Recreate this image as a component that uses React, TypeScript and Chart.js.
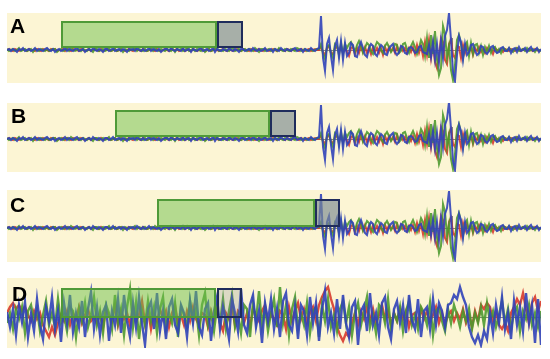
import { useEffect, useRef } from "react";
import { Chart, registerables } from "chart.js";

Chart.register(...registerables);

// ---------- data ----------
const panelLabels = ["A", "B", "C", "D"];
const seisStep = 2; // samples A-C
const noiseStep = 3; // samples D
const xMax = 534;

// seismogram (same trace in A, B, C)
const seisBlue = [
  0, 1, -1, 1, 0, -2, 1, 0, 2, -1,
  0, 1, -1, 0, 2, -1, 1, 0, -1, 1,
  2, 0, -1, 1, -2, 0, 1, -1, 0, 2,
  -1, 1, 0, -1, 1, 2, -1, 0, 1, -2,
  0, 1, -1, 2, 0, -1, 1, 0, -2, 1,
  1, -1, 0, 2, -1, 0, 1, -1, 1, 0,
  -2, 1, 0, 1, -1, 2, 0, -1, 1, -1,
  0, 2, -1, 1, 0, -1, 1, -2, 0, 1,
  1, -1, 2, 0, -1, 1, 0, -1, 2, -1,
  0, 1, -2, 1, 0, -1, 1, 2, -1, 0,
  1, -1, 0, 2, -2, 1, 0, -1, 1, 0,
  -1, 2, 0, -1, 1, 0, -2, 1, 1, -1,
  0, 1, -1, 2, 0, -1, 1, -1, 0, 2,
  -1, 0, 1, -2, 1, 0, -1, 2, 0, -1,
  1, 0, -1, 1, 2, -1, 0, 1, -2, 1,
  0, -1, 2, 0, -1, 1,
  2, 34, -8, -21, 6, 12, -6, -20, 4, 10, -8, 9, -10, 7,
  -6, -3, 7, 5, -6, -7, 3, 8, 2, -5,
  -7, 2, 6, 4, -4, -6, 1, 5, 3, -4,
  -5, 1, 4, 6, -2, -5, -2, 4, 3, -3,
  -4, 2, 3, 1, -3, -2, 3, 4, -2, -3,
  -4, 5, -7, 8, -10, 6, -12, 10, -8, 14,
  20, 37, 10, -22, -31, -5, 14, 8, -10, 6,
  -5, -2, 5, 6, -1, -5, -3, 4, 3, -2,
  -4, -1, 3, 4, -1, -3, -2, 2, 3, -1,
  -1, 2, -3, 1, 2, -2, 3, -1, 0, 2,
  -2, 1, 3, -1, 0, 2, -2, 1,
];

const seisGreen = [
  1, -1, 0, 1, -1, 0, 2, -1, 0, 1,
  -1, 0, 1, -2, 1, 0, -1, 1, 0, -1,
  1, -1, 0, 1, 1, -2, 0, 1, -1, 0,
  1, -1, 2, 0, -1, 0, 1, -1, 1, 0,
  -1, 1, 0, -2, 1, 1, -1, 0, 1, -1,
  0, 2, -1, 0, 1, -1, 0, 1, -2, 1,
  0, -1, 1, 0, 2, -1, 1, 0, -1, 1,
  -1, 0, 1, -1, 2, 0, -1, 1, 0, -1,
  1, 0, -1, 1, -2, 1, 0, 1, -1, 0,
  2, -1, 0, 1, -1, 1, 0, -1, 1, -2,
  0, 1, -1, 0, 1, 2, -1, 0, -1, 1,
  0, -1, 1, 2, -1, 0, 1, -1, 0, 1,
  -1, 1, 0, -1, 2, 0, -2, 1, 1, -1,
  0, 1, -1, 0, 1, -1, 2, 0, -1, 1,
  0, -1, 1, 0, -1, 2, 1, -1, 0, 1,
  -1, 0, 1, -1, 0, 1,
  1, 6, -4, -9, 3, 5, -3, -8, 6, 4, -5, 7, -4, 6,
  2, 6, 8, 3, -2, 5, 9, 4, -3, 2,
  7, 5, -1, -4, 3, 8, 6, 0, -3, 4,
  7, 3, -2, 1, 6, 5, -3, -1, 6, 7,
  1, -3, 4, 8, 3, -4, 2, 10, 6, -6,
  12, -8, 15, -4, 19, -10, -25, -18, 24, 16,
  -8, 4, -20, -30, -15, 10, 15, 6, -8, 5,
  8, -6, 7, -4, 5, 6, -3, 4, -5, 3,
  -2, 4, -3, 2, 3, -2, 1, -3, 2, 1,
  -1, 2, 0, -2, 1, 2, -1, 0, 1, -1,
  2, -1, 0, 1, -2, 1, 0, -1,
];

const seisRed = [
  0, 1, 0, -1, 1, 0, -1, 0, 1, 0,
  -1, 1, 0, 0, -1, 1, 0, -1, 1, 0,
  0, -1, 1, 0, 1, -1, 0, 0, 1, -1,
  1, 0, -1, 1, 0, 0, -1, 1, 0, -1,
  0, 1, -1, 0, 1, 0, -1, 1, -1, 0,
  1, 0, -1, 0, 1, -1, 0, 1, 0, -1,
  0, 1, 0, -1, 1, 0, 0, -1, 1, 0,
  -1, 0, 1, 0, -1, 1, 0, -1, 0, 1,
  0, -1, 1, 0, 0, 1, -1, 0, 1, -1,
  1, 0, -1, 1, 0, -1, 0, 1, 0, -1,
  0, 1, -1, 0, 1, 0, -1, 0, 1, 0,
  -1, 1, 0, -1, 0, 1, 0, -1, 1, 0,
  0, -1, 1, 0, -1, 0, 1, 0, -1, 1,
  0, -1, 0, 1, 0, -1, 1, 0, 0, -1,
  1, 0, -1, 1, 0, 0, -1, 1, 0, -1,
  0, 1, -1, 0, 1, 0,
  0, 3, -2, -5, 2, 4, -3, -4, 2, 3, -2, 4, -3, 2,
  -2, -6, 2, 3, -4, 2, -3, 4, -2, 3,
  -3, 2, -4, 3, -2, 2, -3, 2, -5, 3,
  -2, 3, -1, 2, -3, 4, -2, 3, -1, 2,
  -3, 2, -2, 3, -4, 5, -3, 4, -6, 8,
  -5, 10, -8, 6, -12, -18, -6, 12, 8, -10,
  -14, 6, 10, -5, -8, 4, 3, -8, 5, -3,
  4, -2, 3, -5, 2, -1, 3, -2, 1, -3,
  2, -1, 1, -4, 2, 0, -1, 1, -2, 1,
  0, -1, 1, 0, -1, 2, 0, -1, 1, 0,
  -1, 1, 0, -1, 1, 0, -1, 0,
];

// noise record (panel D)
const noiseBlue = [
  5, -10, 8, -18, 12, -5, 15, -20, 3, -14,
  18, -8, -22, 10, -4, 20, -12, 6, -25, 14,
  -6, 22, -15, 4, -10, 16, -20, 8, 25, -12,
  10, -18, 5, 12, -24, 6, -8, 18, -16, 22,
  -4, -20, 14, -10, 20, -6, -28, 8, 15, -12,
  24, -14, 6, -22, 10, 18, -8, -16, 12, 4,
  -20, 16, -6, 26, -10, -18, 8, 14, -24, 6,
  20, -12, 10, -4, -22, 18, 4, -14, 28, -8,
  -16, 12, 22, -10, 6, -26, 14, -4, 18, -12,
  8, -20, 16, 24, -8, -14, 10, -22, 12, 6,
  -18, 20, -6, 14, -24, 8, 26, -10, 4, -16,
  18, -12, 22, -6, -20, 10, 16, -28, 6, 12,
  -14, 24, -8, 4, -18, 14, 20, -10, -22, 8,
  16, -6, 12, -16, 22, -4, -12, 18, -20, 6,
  10, -12, 18, -8, 14, 6, -10, 12, 14, 22,
  18, 30, 20, 12, -10, -20, -26, -18, -28, -14,
  -22, 4, -16, 12, -6, 20, -12, 4, -22, 16,
  -8, 10, -14, 24, -6, 12, -26, 18, -28,
];

const noiseGreen = [
  -6, 4, -12, 8, -2, 10, -16, 6, 12, -4,
  8, -14, 2, 16, -8, 4, -10, 18, -6, 2,
  -14, 10, 6, -20, 8, -4, 14, -10, 2, 20,
  -8, 6, -16, 12, 4, -12, 22, -6, 8, -18,
  10, 28, -10, 14, -22, 6, -8, 16, -4, 10,
  -16, 8, 20, -12, 4, -6, 14, -20, 10, 2,
  -10, 16, -4, 8, -18, 12, 24, -8, 4, -14,
  10, -6, 18, -12, 6, 22, -10, 2, -16, 12,
  8, -20, 14, -4, 26, -8, 10, -14, 4, 18,
  -10, 30, -6, 12, -18, 8, 20, -12, 4, -8,
  14, -16, 6, 10, -20, 12, -4, 18, -10, 2,
  -14, 8, 16, -6, 10, -18, 4, 14, -8, 6,
  20, -10, 2, -16, 12, 8, -6, 18, -12, 4,
  -4, 10, -14, 6, 16, -8, 2, -12, 10, 4,
  -8, 14, -18, 6, 10, -4, -14, 8, -6, 12,
  2, -10, 6, -4, 8, -12, 4, -6, 10, -8,
  14, -4, 6, -10, 2, 16, -6, 8, -12, 4,
  10, -14, 6, -2, 12, -8, 4, -10, 6,
];

const noiseRed = [
  4, 10, 14, 8, 12, 6, 10, 2, -4, 6,
  -2, 4, -8, -14, -20, -10, -18, -6, 2, -4,
  6, -8, 4, -2, 10, -6, 2, 8, -4, 0,
  -6, 4, -10, 8, 2, -4, 12, -8, 6, -2,
  4, -8, 10, -4, 2, 16, -6, 8, -12, 4,
  -4, 8, -2, 6, -10, 4, 12, -6, 2, -8,
  6, -4, 10, -2, -8, 4, 2, -10, 6, -4,
  8, -6, -14, 4, -2, 10, -8, 6, 2, -6,
  4, -10, 8, 2, -4, 6, 12, -6, 4, -2,
  -8, 6, 2, -12, 10, -4, 6, 14, -2, 8,
  -6, 4, 10, -4, 12, 20, 26, 30, 18, 8,
  -10, -18, -24, -16, -20, -6, 4, -8, 6, -2,
  10, -4, 8, -6, 2, 12, -2, 6, -8, 4,
  -4, 8, -2, 6, -10, 2, 4, -6, 8, -2,
  6, -4, 2, 10, -6, 4, -8, 2, 6, -4,
  4, -2, 8, -6, 2, -10, 6, -4, 12, 8,
  14, 10, -4, 6, -8, -12, -6, -14, 4, 10,
  18, 12, 24, 8, -6, 14, 20, 6, 16,
];

// selection windows [xStart, xEnd, yBottom, yTop] in panel units
const windowGreenA = [54, 210, 2, 29];
const windowGrayA = [210, 236, 2, 29];
const windowGreenB = [108, 263, 2, 29];
const windowGrayB = [263, 289, 2, 29];
const windowGreenC = [150, 308, 1, 29];
const windowGrayC = [308, 333, 1, 29];
const windowGreenD = [54, 209, -1, 29];
const windowGrayD = [210, 235, -1, 29];
const sArrival = [445];

// ---------- styles ----------
const BG = "#fcf5d4";
const BLUE = "rgba(48,66,185,0.9)";
const GREEN = "rgba(74,152,44,0.88)";
const RED = "rgba(214,52,40,0.88)";

type PanelProps = {
  label: string;
  top: number;
  height: number;
  yMin: number;
  yMax: number;
  step: number;
  lineWidth: number;
  blue: number[];
  green: number[];
  red: number[];
  greenWin: number[];
  grayWin: number[];
  grayAlpha: number;
  marker: boolean;
  labelTop: number;
  labelLeft: number;
};

function Panel(p: PanelProps) {
  const ref = useRef<HTMLCanvasElement>(null);
  useEffect(() => {
    if (!ref.current) return;
    const toPts = (arr: number[]) => arr.map((v, i) => ({ x: i * p.step, y: v }));
    const bg = {
      id: "bg",
      beforeDraw(c: any) {
        const { ctx, chartArea: a } = c;
        ctx.save();
        ctx.fillStyle = BG;
        ctx.fillRect(a.left, a.top, a.width, a.height);
        ctx.restore();
      },
    };
    const under = {
      id: "under",
      beforeDatasetsDraw(c: any) {
        const { ctx, chartArea: a } = c;
        const xs = c.scales.x;
        const ys = c.scales.y;
        ctx.save();
        ctx.strokeStyle = "rgba(110,110,110,0.85)";
        ctx.lineWidth = 1;
        const y0 = Math.round(ys.getPixelForValue(0)) + 0.5;
        ctx.beginPath();
        ctx.moveTo(a.left, y0);
        ctx.lineTo(a.right, y0);
        ctx.stroke();
        if (p.marker) {
          const xm = Math.round(xs.getPixelForValue(sArrival[0])) + 0.5;
          ctx.beginPath();
          ctx.moveTo(xm, ys.getPixelForValue(12));
          ctx.lineTo(xm, ys.getPixelForValue(-12));
          ctx.stroke();
        }
        ctx.restore();
      },
    };
    const over = {
      id: "over",
      afterDatasetsDraw(c: any) {
        const { ctx } = c;
        const xs = c.scales.x;
        const ys = c.scales.y;
        const rect = (w: number[], fill: string, stroke: string) => {
          const x0 = xs.getPixelForValue(w[0]);
          const x1 = xs.getPixelForValue(w[1]);
          const yT = ys.getPixelForValue(w[3]);
          const yB = ys.getPixelForValue(w[2]);
          ctx.fillStyle = fill;
          ctx.fillRect(x0, yT, x1 - x0, yB - yT);
          ctx.strokeStyle = stroke;
          ctx.lineWidth = 2;
          ctx.strokeRect(x0 + 1, yT + 1, x1 - x0 - 2, yB - yT - 2);
        };
        ctx.save();
        rect(p.greenWin, "rgba(108,192,74,0.5)", "#4f9a38");
        rect(p.grayWin, `rgba(122,136,144,${p.grayAlpha})`, "#1f2c5c");
        ctx.restore();
      },
    };
    const chart = new Chart(ref.current, {
      type: "line",
      data: {
        datasets: [
          { data: toPts(p.blue), borderColor: BLUE },
          { data: toPts(p.green), borderColor: GREEN },
          { data: toPts(p.red), borderColor: RED },
        ].map((d) => ({
          ...d,
          borderWidth: p.lineWidth,
          pointRadius: 0,
          tension: 0,
          fill: false,
        })),
      },
      options: {
        animation: false,
        responsive: false,
        maintainAspectRatio: false,
        devicePixelRatio: 1,
        layout: { padding: 0 },
        scales: {
          x: { type: "linear", min: 0, max: xMax, display: false },
          y: { type: "linear", min: p.yMin, max: p.yMax, display: false },
        },
        plugins: { legend: { display: false }, tooltip: { enabled: false } },
        events: [],
      },
      plugins: [bg, under, over],
    } as any);
    return () => chart.destroy();
  }, []);
  return (
    <>
      <canvas
        ref={ref}
        width={534}
        height={p.height}
        style={{ position: "absolute", left: 7, top: p.top, width: 534, height: p.height }}
      />
      <div
        style={{
          position: "absolute",
          left: p.labelLeft,
          top: p.labelTop,
          font: 'bold 21px "Liberation Sans", Arial, sans-serif',
          lineHeight: "21px",
          color: "#000",
        }}
      >
        {p.label}
      </div>
    </>
  );
}

export default function App() {
  return (
    <div style={{ position: "absolute", left: 0, top: 0, width: 550, height: 359, background: "#fff", overflow: "hidden" }}>
      <Panel label={panelLabels[0]} top={13} height={70} yMin={-33} yMax={37} step={seisStep} lineWidth={2}
        blue={seisBlue} green={seisGreen} red={seisRed} greenWin={windowGreenA} grayWin={windowGrayA}
        grayAlpha={0.65} marker={true} labelTop={15} labelLeft={10} />
      <Panel label={panelLabels[1]} top={103} height={69} yMin={-33} yMax={36} step={seisStep} lineWidth={2}
        blue={seisBlue} green={seisGreen} red={seisRed} greenWin={windowGreenB} grayWin={windowGrayB}
        grayAlpha={0.65} marker={true} labelTop={105} labelLeft={11} />
      <Panel label={panelLabels[2]} top={190} height={72} yMin={-34} yMax={38} step={seisStep} lineWidth={2}
        blue={seisBlue} green={seisGreen} red={seisRed} greenWin={windowGreenC} grayWin={windowGrayC}
        grayAlpha={0.65} marker={true} labelTop={194} labelLeft={10} />
      <Panel label={panelLabels[3]} top={278} height={70} yMin={-31} yMax={39} step={noiseStep} lineWidth={2.4}
        blue={noiseBlue} green={noiseGreen} red={noiseRed} greenWin={windowGreenD} grayWin={windowGrayD}
        grayAlpha={0.25} marker={false} labelTop={283} labelLeft={12} />
    </div>
  );
}
